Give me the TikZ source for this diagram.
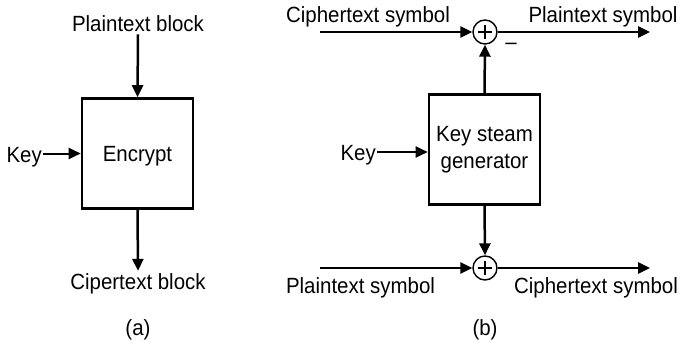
\documentclass[tikz,border=0pt]{standalone}
\usepackage{fontspec}
\setmainfont[FakeStretch=0.93]{Liberation Sans}
\usetikzlibrary{arrows.meta}
\begin{document}
\begin{tikzpicture}[x=1pt,y=-1pt,
  every node/.style={font=\fontsize{22}{27}\selectfont},
  lbl/.style={inner sep=0pt, anchor=base},
  blk/.style={draw, line width=2.6pt, minimum width=111pt, minimum height=110pt,
    inner sep=0pt, align=center},
  flow/.style={line width=2.5pt, -{Triangle[length=12pt,width=11pt]}},
  keyflow/.style={flow, line width=2pt},
  xorc/.style={draw, circle, line width=1.4pt, minimum size=24pt, inner sep=0pt,
    path picture={
      \draw[line width=1.2pt]
        ([xshift=-7pt]path picture bounding box.center) -- ([xshift=7pt]path picture bounding box.center)
        ([yshift=-7pt]path picture bounding box.center) -- ([yshift=7pt]path picture bounding box.center);
    }}
]
\useasboundingbox (0,0) rectangle (684,345);

% ---- (a) block cipher ----
\node[blk, text depth=0pt] (encA) at (137.5,153.5) {Encrypt};
\node[lbl] (ptA) at (138,32) {Plaintext block};
\node[lbl] (ctA) at (138,289) {Cipertext block};
\node[lbl, anchor=base east] (keyA) at (42,162) {Key};
\node[lbl] (capA) at (138,335) {(a)};

\draw[flow] ([yshift=-2pt]ptA.south) -- (encA.north);
\draw[flow] (encA.south) -- ([yshift=2pt]ctA.north);
\draw[keyflow] ([xshift=1pt]keyA.east |- encA.west) -- (encA.west);

% ---- (b) stream cipher ----
\node[blk] (genB) at (484.5,149.5) {Key steam\\generator};
\node[xorc] (xTop) at (485,32) {};
\node[xorc] (xBot) at (485,268) {};
\coordinate (inTop) at (320,32);
\coordinate (outTop) at (650,32);
\coordinate (inBot) at (320,268);
\coordinate (outBot) at (650,268);

\node[lbl] (ctIn) at (368,23) {Ciphertext symbol};
\node[lbl] (ptOut) at (603,23) {Plaintext symbol};
\node[lbl] (minus) at (511,49) {–};
\node[lbl] (ptIn) at (360.5,293) {Plaintext symbol};
\node[lbl] (ctOut) at (596,293) {Ciphertext symbol};
\node[lbl, anchor=base east] (keyB) at (376,160) {Key};
\node[lbl] (capB) at (485,335) {(b)};

\draw[flow] (inTop) -- (xTop);
\draw[flow] (xTop) -- (outTop);
\draw[flow] (genB.north) -- (xTop.south);
\draw[flow] (genB.south) -- (xBot.north);
\draw[flow] (inBot) -- (xBot);
\draw[flow] (xBot) -- (outBot);
\draw[keyflow] ([xshift=1pt]keyB.east |- 0,152) -- (genB.west |- 0,152);
\end{tikzpicture}
\end{document}
